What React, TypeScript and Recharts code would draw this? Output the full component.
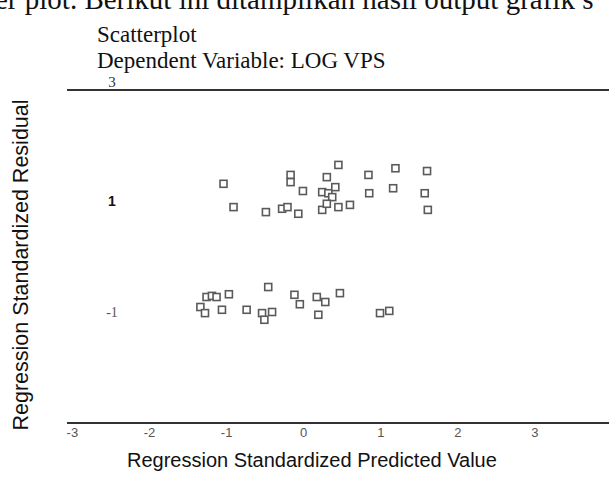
import React from 'react';
import { ScatterChart, Scatter, XAxis, YAxis, ReferenceLine } from 'recharts';

const upperX = [-1.04, -0.91, -0.49, -0.28, -0.21, -0.07, -0.17, -0.17, -0.01, 0.30, 0.24, 0.32, 0.37, 0.41, 0.24, 0.30, 0.45, 0.60, 0.45, 0.84, 0.85, 1.19, 1.16, 1.60, 1.57, 1.61];
const upperY = [1.31, 0.89, 0.80, 0.86, 0.89, 0.77, 1.47, 1.34, 1.18, 1.43, 1.16, 1.14, 1.07, 1.25, 0.84, 0.95, 0.89, 0.93, 1.65, 1.47, 1.14, 1.59, 1.23, 1.54, 1.14, 0.84];
const lowerX = [-1.34, -1.26, -1.19, -1.13, -0.97, -1.28, -1.06, -0.74, -0.54, -0.51, -0.41, -0.46, -0.12, -0.05, 0.17, 0.28, 0.47, 0.19, 0.99, 1.11];
const lowerY = [-0.91, -0.73, -0.71, -0.73, -0.68, -1.02, -0.96, -0.96, -1.02, -1.14, -1.00, -0.55, -0.69, -0.86, -0.73, -0.82, -0.66, -1.05, -1.02, -0.98];

const xTicks = [-3, -2, -1, 0, 1, 2, 3];
const yTicks = [3, 1, -1];

const points = [
  ...upperX.map((x, i) => ({ x, y: upperY[i] })),
  ...lowerX.map((x, i) => ({ x, y: lowerY[i] })),
];

const SquareShape = (props: any) => {
  const { cx, cy } = props;
  if (cx == null || cy == null) return null;
  return <rect x={cx - 3.5} y={cy - 3.5} width={7} height={7} fill="#ffffff" stroke="#5a5a5a" strokeWidth={1.6} />;
};

const YTick = (props: any) => {
  const { y, payload } = props;
  const v = payload.value;
  const style: any =
    v === 3
      ? { fontFamily: 'Liberation Serif', fontSize: 15, fill: '#333', dy: -8, fw: 400 }
      : v === 1
      ? { fontFamily: 'Liberation Sans', fontSize: 14, fill: '#111', dy: 0, fw: 600 }
      : { fontFamily: 'Liberation Serif', fontSize: 14, fill: '#555', dy: 0, fw: 400 };
  return (
    <text x={112} y={y} dy={style.dy} textAnchor="middle" dominantBaseline="central" fontFamily={style.fontFamily} fontSize={style.fontSize} fontWeight={style.fw} fill={style.fill}>
      {v}
    </text>
  );
};

export default function App() {
  return (
    <div style={{ position: 'absolute', left: 0, top: 0, width: 609, height: 479, background: '#fff', overflow: 'hidden' }}>
      <div style={{ position: 'absolute', left: -5, top: -17, fontFamily: 'Liberation Serif', fontSize: 29, lineHeight: '33px', color: '#111', whiteSpace: 'nowrap' }}>
        er plot. Berikut ini ditampilkan hasil output grafik s
      </div>
      <div style={{ position: 'absolute', left: 97, top: 22, fontFamily: 'Liberation Serif', fontSize: 23, color: '#111', whiteSpace: 'nowrap' }}>
        Scatterplot
      </div>
      <div style={{ position: 'absolute', left: 97, top: 48, fontFamily: 'Liberation Serif', fontSize: 23, color: '#111', whiteSpace: 'nowrap' }}>
        Dependent Variable: LOG VPS
      </div>
      <div style={{ position: 'absolute', left: 0, top: 0 }}>
        <ScatterChart width={609} height={479} margin={{ top: 90, right: 0, bottom: 0, left: 17 }}>
          <XAxis
            type="number"
            dataKey="x"
            domain={[-3.07, 3.96]}
            ticks={xTicks}
            allowDataOverflow
            height={56}
            tickLine={false}
            tickSize={0}
            tickMargin={5}
            axisLine={{ stroke: '#333', strokeWidth: 2 }}
            tick={{ fontFamily: 'Liberation Sans', fontSize: 13, fill: '#555' }}
          />
          <YAxis
            type="number"
            dataKey="y"
            domain={[-3, 3]}
            ticks={yTicks}
            width={50}
            axisLine={false}
            tickLine={false}
            tick={<YTick />}
            allowDataOverflow
          />
          <ReferenceLine y={3} stroke="#333" strokeWidth={2} />
          <Scatter data={points} shape={<SquareShape />} isAnimationActive={false} />
        </ScatterChart>
      </div>
      <div style={{ position: 'absolute', left: 127, top: 449, fontFamily: 'Liberation Sans', fontSize: 20, color: '#111', whiteSpace: 'nowrap' }}>
        Regression Standardized Predicted Value
      </div>
      <div
        style={{
          position: 'absolute',
          left: 21,
          top: 265,
          transform: 'translate(-50%, -50%) rotate(-90deg)',
          fontFamily: 'Liberation Sans',
          fontSize: 21.5,
          color: '#111',
          whiteSpace: 'nowrap',
        }}
      >
        Regression Standardized Residual
      </div>
    </div>
  );
}
